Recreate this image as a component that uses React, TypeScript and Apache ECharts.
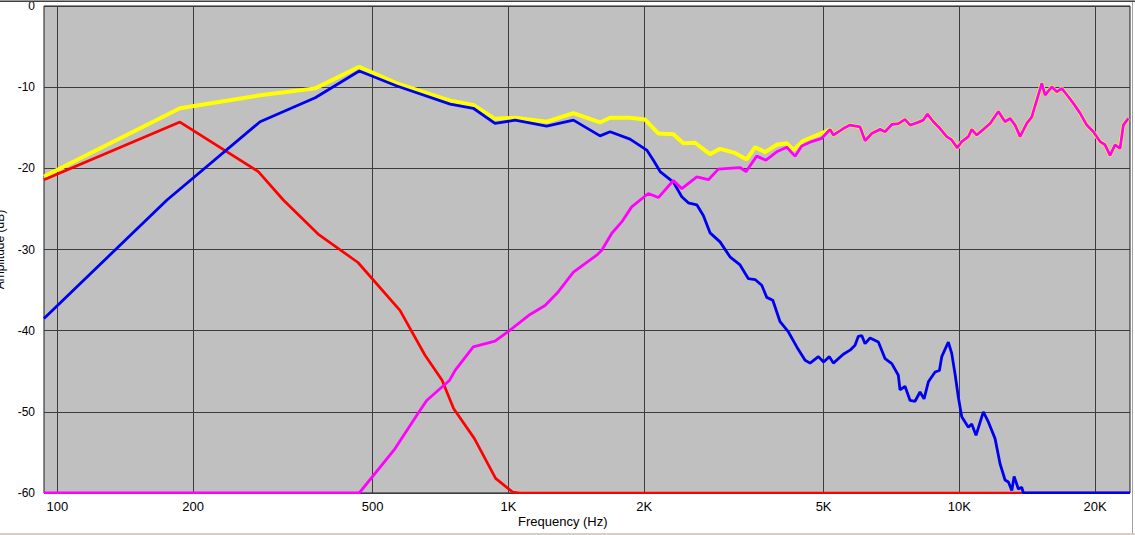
import React, { useEffect, useRef } from "react";
import * as echarts from "echarts";

// Frequency grid (Hz) and its labels
const freqGrid = [100, 200, 500, 1000, 2000, 5000, 10000, 20000];
const freqLabels = ["100", "200", "500", "1K", "2K", "5K", "10K", "20K"];

const F_MIN = 93.4;
const F_MAX = 23900;

// [frequency Hz, amplitude dB]
const redCurve: [number, number][] = [
  [93.4, -21.4], [187, -14.3], [279, -20.4], [317, -23.9], [378.5, -28.1], [464, -31.6],
  [575, -37.5], [653, -43.0], [713, -46.1], [756, -49.6], [841, -53.3], [937, -58.2],
  [1023, -59.9], [1060, -60], [23900, -60],
];

const blueCurve: [number, number][] = [
  [93.4, -38.5], [175, -23.9], [281.5, -14.26], [373, -11.3], [467, -8.0], [566, -9.86],
  [743, -12.08], [836, -12.6], [934, -14.47], [1035, -14.06], [1216, -14.8], [1394, -14.06],
  [1597, -16.0], [1681, -15.5], [1861, -16.4], [2027, -17.75], [2097, -19.0], [2170, -20.4],
  [2322, -21.7], [2424, -23.5], [2506, -24.25], [2617, -24.5], [2706, -25.8], [2800, -27.95],
  [2947, -29.06], [3100, -30.9], [3264, -31.9], [3406, -33.6], [3524, -33.7], [3646, -34.4],
  [3741, -35.9], [3858, -36.25], [4004, -38.9], [4178, -40.16], [4361, -42.0], [4549, -43.65],
  [4667, -44.0], [4869, -43.2], [5000, -43.86], [5150, -43.2], [5256, -44.0], [5530, -42.9],
  [5723, -42.4], [5871, -41.8], [5971, -40.7], [6076, -40.6], [6179, -41.6], [6339, -40.9],
  [6614, -41.4], [6845, -43.45], [7083, -44.06], [7324, -45.5], [7386, -47.3], [7577, -46.85],
  [7776, -48.6], [7976, -48.7], [8182, -47.56], [8352, -48.4], [8537, -46.3], [8835, -45.1],
  [9031, -44.9], [9141, -43.2], [9454, -41.4], [9618, -42.8], [9781, -45.3], [9949, -48.2],
  [10123, -50.6], [10471, -51.9], [10653, -51.5], [10889, -52.9], [11303, -50.0], [11597, -51.25],
  [12001, -53.3], [12310, -56.4], [12629, -58.4], [12845, -58.65], [13072, -59.7], [13226, -57.95],
  [13515, -59.5], [13753, -59.3], [13868, -60], [23900, -60],
];

const magentaCurve: [number, number][] = [
  [93.4, -60], [467, -60], [558, -54.7], [634, -50.0], [659, -48.6], [741, -46.1], [762, -44.9],
  [836, -42.0], [934, -41.3], [1000, -40.1], [1117, -38.0], [1206, -36.9], [1291, -35.2],
  [1394, -32.8], [1570, -30.7], [1611, -30.1], [1696, -28.0], [1784, -26.6], [1877, -24.75],
  [2043, -23.1], [2151, -23.6], [2322, -21.5], [2424, -22.5], [2617, -21.05], [2777, -21.4],
  [2922, -20.1], [3075, -20.0], [3264, -19.9], [3365, -20.4], [3553, -18.5], [3726, -19.0],
  [3936, -17.96], [4143, -17.4], [4322, -18.5], [4472, -17.26], [4706, -16.7], [4954, -16.3],
  [5168, -15.2], [5256, -15.9], [5530, -15.1], [5723, -14.67], [6023, -14.9], [6179, -16.6],
  [6393, -15.7], [6672, -15.2], [6845, -15.5], [7083, -14.6], [7324, -14.5], [7577, -13.97],
  [7776, -14.67], [8045, -14.4], [8323, -14.06], [8492, -13.3], [8758, -14.26], [9062, -15.1],
  [9376, -16.1], [9618, -16.5], [9899, -17.5], [10123, -16.7], [10471, -16.1], [10653, -15.2],
  [10929, -15.9], [11303, -15.2], [11700, -14.47], [12206, -13.0], [12629, -14.26], [12956, -13.85],
  [13292, -14.67], [13636, -16.1], [14109, -14.47], [14475, -13.65], [14850, -11.6], [15234, -9.53],
  [15494, -10.97], [16030, -9.95], [16444, -10.57], [16871, -10.15], [17448, -11.18], [17900, -12.0],
  [18522, -13.2], [19167, -14.67], [19822, -15.5], [20512, -16.7], [21040, -17.1], [21584, -18.4],
  [22142, -17.1], [22716, -17.55], [23102, -14.67], [23700, -13.85],
];

// Summed response up to 5 kHz; above that it coincides with the magenta curve
const yellowCurveLow: [number, number][] = [
  [93.4, -21.0], [187, -12.6], [281.5, -11.0], [373, -10.15], [467, -7.48], [566, -9.53],
  [743, -11.67], [836, -12.2], [934, -13.9], [1035, -13.77], [1216, -14.26], [1394, -13.2],
  [1597, -14.35], [1681, -13.77], [1861, -13.77], [2007, -13.97], [2151, -15.7], [2322, -15.8],
  [2444, -16.9], [2594, -16.85], [2800, -18.25], [2947, -17.6], [3181, -18.1], [3378, -18.9],
  [3524, -17.4], [3708, -18.0], [3936, -17.1], [4143, -16.9], [4285, -17.75], [4510, -16.6],
  [4746, -16.1], [5000, -15.6],
];

const FONT = "'Liberation Sans', Arial, sans-serif";

export default function App() {
  const ref = useRef<HTMLDivElement>(null);

  useEffect(() => {
    if (!ref.current) return;
    const chart = echarts.init(ref.current, undefined, { renderer: "svg" });
    const yellowCurve = yellowCurveLow.concat(magentaCurve.filter((p) => p[0] > 5000));

    const lineBase = {
      type: "line" as const,
      showSymbol: false,
      symbol: "none",
      silent: true,
    };

    chart.setOption({
      animation: false,
      backgroundColor: "#ffffff",
      grid: {
        left: 44,
        top: 6,
        width: 1086,
        height: 487,
        containLabel: false,
        outerBoundsMode: "none",
        show: true,
        backgroundColor: "#c0c0c0",
        borderColor: "#1a1a1a",
        borderWidth: 1,
      },
      xAxis: {
        type: "log",
        logBase: 10,
        min: F_MIN,
        max: F_MAX,
        axisLine: { show: false },
        axisTick: { show: false },
        axisLabel: { show: false },
        splitLine: { show: false },
        minorSplitLine: { show: false },
      },
      yAxis: {
        type: "value",
        min: -60,
        max: 0,
        interval: 10,
        name: "Amplitude (dB)",
        nameLocation: "middle",
        nameRotate: 90,
        nameGap: 38,
        nameTextStyle: { color: "#000", fontSize: 12, fontFamily: FONT },
        axisLine: { show: false },
        axisTick: { show: false },
        axisLabel: { color: "#000", fontSize: 12, fontFamily: FONT, margin: 9 },
        splitLine: { show: true, lineStyle: { color: "#3c3c3c", width: 1 } },
      },
      graphic: [
        { type: "rect", shape: { x: 44, y: 494, width: 1087, height: 4 }, style: { fill: "#ffffff" }, silent: true, z: 50 },
        { type: "rect", shape: { x: 0, y: 0, width: 1135, height: 1 }, style: { fill: "#9a9a9a" }, silent: true, z: 50 },
        { type: "rect", shape: { x: 0, y: 1, width: 1135, height: 1 }, style: { fill: "#404040" }, silent: true, z: 50 },
        { type: "rect", shape: { x: 0, y: 533, width: 1135, height: 2 }, style: { fill: "#d4d0c8" }, silent: true, z: 50 },
        { type: "rect", shape: { x: 1132, y: 2, width: 1, height: 531 }, style: { fill: "#a0a0a0" }, silent: true, z: 50 },
        {
          type: "text",
          left: 518,
          top: 515,
          style: { text: "Frequency (Hz)", fill: "#000", font: `13px ${FONT}` },
          silent: true,
        },
      ],
      series: [
        {
          ...lineBase,
          name: "Sum",
          data: yellowCurve,
          lineStyle: { color: "#ffff00", width: 4 },
          z: 2,
          markLine: {
            silent: true,
            symbol: ["none", "none"],
            z: 1,
            animation: false,
            lineStyle: { color: "#3c3c3c", width: 1, type: "solid" },
            label: {
              show: true,
              position: "start",
              distance: 7,
              formatter: "{b}",
              color: "#000",
              fontSize: 13,
              fontFamily: FONT,
            },
            data: freqGrid.map((f, i) => ({ xAxis: f, name: freqLabels[i] })),
          },
        },
        {
          ...lineBase,
          name: "Woofer",
          data: redCurve,
          lineStyle: { color: "#ff0000", width: 2.7 },
          z: 3,
        },
        {
          ...lineBase,
          name: "Mid",
          data: blueCurve,
          lineStyle: { color: "#0000f0", width: 2.8 },
          z: 4,
        },
        {
          ...lineBase,
          name: "Tweeter",
          data: magentaCurve,
          lineStyle: { color: "#ff00ff", width: 2.8 },
          z: 5,
        },
      ],
    });

    return () => chart.dispose();
  }, []);

  return (
    <div
      ref={ref}
      style={{ position: "fixed", left: 0, top: 0, width: 1135, height: 535, background: "#fff" }}
    />
  );
}
